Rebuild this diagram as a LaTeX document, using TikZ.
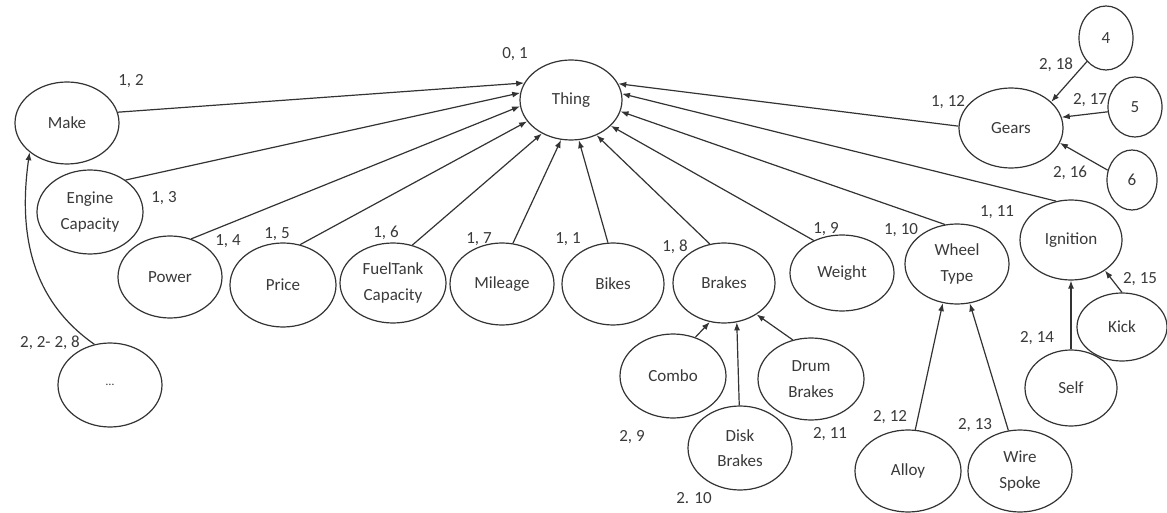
\documentclass[tikz,border=0pt]{standalone}
\usepackage{fontspec}
\setmainfont{Carlito}
\usetikzlibrary{shapes.geometric,arrows.meta}
\definecolor{ink}{HTML}{333333}
\definecolor{txt}{HTML}{3A3A3A}
\begin{document}
\begin{tikzpicture}[x=0.75pt,y=-0.75pt,
  every node/.style={font=\fontsize{12.75}{19}\selectfont, text=txt},
  ov/.style 2 args={ellipse, draw=ink, line width=0.9pt, inner sep=0pt, align=center,
    minimum width=#1*1.5pt, minimum height=#2*1.5pt},
  lab/.style={inner sep=0pt},
  link/.style={draw=ink, line width=0.9pt, -{Latex[length=6pt,width=4.5pt]}}]
\useasboundingbox[fill=white] (0,0) rectangle (1167,513);

% root class
\node[ov={51}{40}] (thing) at (571,100) {Thing};

% first level
\node[ov={52}{41}] (make) at (67,123) {Make};
\node[ov={53}{42}] (engine) at (90,212) {Engine\\Capacity};
\node[ov={52}{41}] (power) at (170,277) {Power};
\node[ov={53}{42}] (price) at (283,285) {Price};
\node[ov={53}{40}] (fuel) at (393,283) {FuelTank\\Capacity};
\node[ov={52}{41}] (mileage) at (502,284) {Mileage};
\node[ov={51}{41}] (bikes) at (613,284) {Bikes};
\node[ov={51}{40}] (brakes) at (724,283) {Brakes};
\node[ov={52}{38}] (weight) at (842,273) {Weight};
\node[ov={52}{40}] (wheel) at (957,264) {Wheel\\Type};
\node[ov={51}{40}] (ignition) at (1071,240) {Ignition};
\node[ov={52}{40}] (gears) at (1011,128) {Gears};

% second level
\node[ov={27}{32}] (four) at (1106,38) {4};
\node[ov={27}{30}] (five) at (1135,107) {5};
\node[ov={25}{30}] (six) at (1132,180) {6};
\node[ov={53}{42}] (combo) at (673,376) {Combo};
\node[ov={52}{42}] (disk) at (740,448) {Disk\\Brakes};
\node[ov={53}{41}] (drum) at (811,379) {Drum\\Brakes};
\node[ov={53}{41}] (alloy) at (908,471) {Alloy};
\node[ov={52}{41}] (wire) at (1020,471) {Wire\\Spoke};
\node[ov={46}{38}] (self) at (1071,388) {Self};
\node[ov={45}{34}] (kick) at (1122,327) {Kick};
\node[ov={52}{42}] (more) at (110,385) {\fontsize{9}{10}\selectfont …};

% subclass links to the root
\draw[link] (make.12) -- (thing.160);
\draw[link] (engine.42) -- (thing.172);
\draw[link] (power.61) -- (thing.187);
\draw[link] (price.67) -- (thing.206);
\draw[link] (fuel.63) -- (thing.229);
\draw[link] (mileage.75) -- (thing.256);
\draw[link] (bikes.97) -- (thing.281);
\draw[link] (brakes.110) -- (thing.306);
\draw[link] (weight.131) -- (thing.327);
\draw[link] (wheel.107) -- (thing.347);
\draw[link] (ignition.111) -- (thing.7);
\draw[link] (gears.178) -- (thing.19);

% second-level links
\draw[link] (four.231) -- (gears.33);
\draw[link] (five.190) -- (gears.12);
\draw[link] (six.158) -- (gears.343);
\draw[link] (combo.60) -- (brakes.250);
\draw[link] (disk.91) -- (brakes.288);
\draw[link] (drum.115) -- (brakes.316);
\draw[link] (alloy.80) -- (wheel.250);
\draw[link] (wire.106) -- (wheel.288);
\draw[link] (self.90) -- (ignition.270);
\draw[link] (kick.90) -- (ignition.318);
\draw[link] (more.111) to[out=145,in=262] (make.218);

% level / index labels
\node[lab] at (515,54) {0, 1};
\node[lab] at (131,81) {1, 2};
\node[lab] at (164,198) {1, 3};
\node[lab] at (228,241) {1, 4};
\node[lab] at (277,234) {1, 5};
\node[lab] at (386,233) {1, 6};
\node[lab] at (479,239) {1, 7};
\node[lab] at (568,239) {1, 1};
\node[lab] at (675,247) {1, 8};
\node[lab] at (826,229) {1, 9};
\node[lab] at (901,230) {1, 10};
\node[lab] at (997,212) {1, 11};
\node[lab] at (948,102) {1, 12};
\node[lab] at (1056,65) {2, 18};
\node[lab] at (1090,100) {2, 17};
\node[lab] at (1070,173) {2, 16};
\node[lab] at (1140,279) {2, 15};
\node[lab] at (1037,338) {2, 14};
\node[lab] at (890,417) {2, 12};
\node[lab] at (975,425) {2, 13};
\node[lab] at (632,437) {2, 9};
\node[lab] at (694,498) {2. 10};
\node[lab] at (830,434) {2, 11};
\node[lab] at (50,343) {2, 2- 2, 8};
\end{tikzpicture}
\end{document}
